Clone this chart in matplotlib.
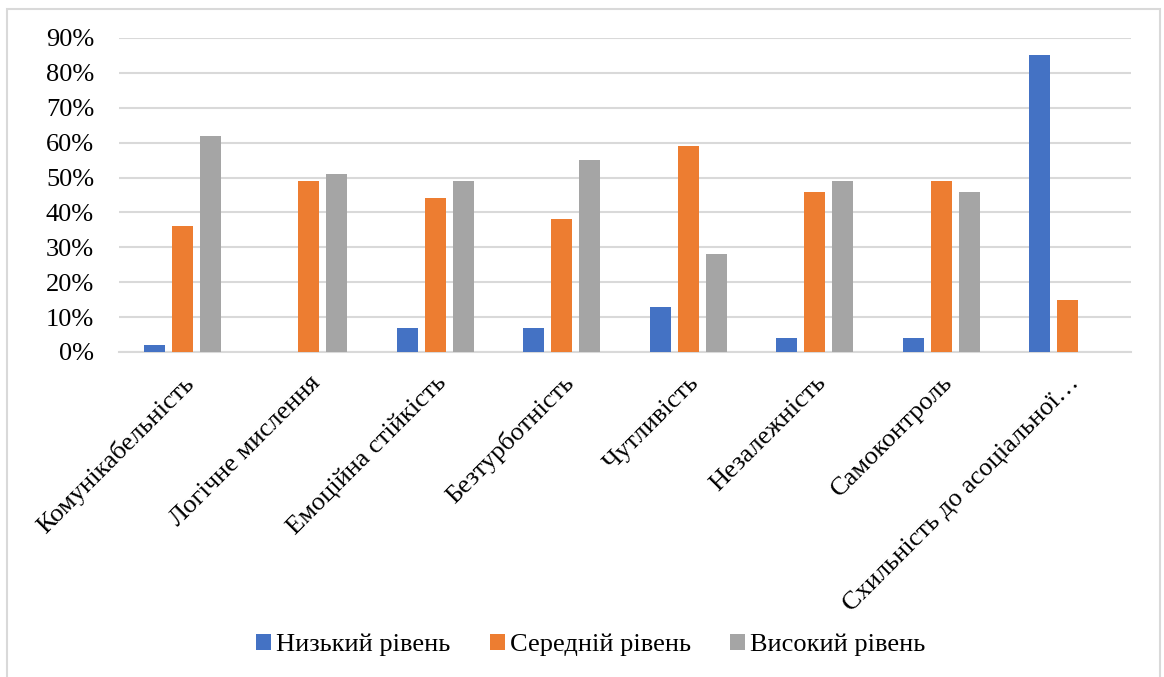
import matplotlib.pyplot as plt
import numpy as np
from matplotlib.patches import Rectangle
from matplotlib.ticker import PercentFormatter

plt.rcParams['font.family'] = ['Liberation Serif', 'DejaVu Serif']

categories = ['Комунікабельність', 'Логічне мислення', 'Емоційна стійкість',
              'Безтурботність', 'Чутливість', 'Незалежність', 'Самоконтроль',
              'Схильність до асоціальної…']
low = [2, 0, 7, 7, 13, 4, 4, 85]
mid = [36, 49, 44, 38, 59, 46, 49, 15]
high = [62, 51, 49, 55, 28, 49, 46, 0]

series = [('Низький рівень', low, '#4472c4'),
          ('Середній рівень', mid, '#ed7d31'),
          ('Високий рівень', high, '#a5a5a5')]

fig = plt.figure(figsize=(11.64, 6.77), dpi=100)
ax = fig.add_axes([119 / 1164, 1 - 352 / 677, (1131 - 119) / 1164, (352 - 38) / 677])

x = np.arange(len(categories))
width = 0.166
step = 0.221
for i, (name, vals, color) in enumerate(series):
    ax.bar(x + (i - 1) * step, vals, width, color=color, label=name, zorder=3)

ax.set_xlim(-0.5, len(categories) - 0.5)
ax.set_ylim(0, 90)
ax.set_yticks(np.arange(0, 91, 10))
ax.yaxis.set_major_formatter(PercentFormatter(decimals=0))
ax.grid(axis='y', color='#d9d9d9', linewidth=1.5, zorder=0)
for s in ['top', 'right', 'left']:
    ax.spines[s].set_visible(False)
ax.spines['bottom'].set_color('#d9d9d9')
ax.spines['bottom'].set_linewidth(1.5)
ax.tick_params(axis='both', length=0, labelsize=19, colors='black')
ax.tick_params(axis='y', pad=18)
ax.set_xticks(x)
ax.set_xticklabels(categories, rotation=45, ha='right', va='top', rotation_mode='anchor')
ax.tick_params(axis='x', pad=14)

ax.legend(loc='center', bbox_to_anchor=(591 / 1164, 1 - 645 / 677), bbox_transform=fig.transFigure,
          ncol=3, frameon=False, fontsize=19, handlelength=0.55, handleheight=0.55,
          handletextpad=0.2, columnspacing=1.5)

fig.patches.append(Rectangle((7 / 1164, -0.05), (1160 - 7) / 1164, 1 - 9 / 677 + 0.05,
                             transform=fig.transFigure, fill=False, edgecolor='#d9d9d9',
                             linewidth=1.5))

fig.savefig('out.png', dpi=100, facecolor='white')
